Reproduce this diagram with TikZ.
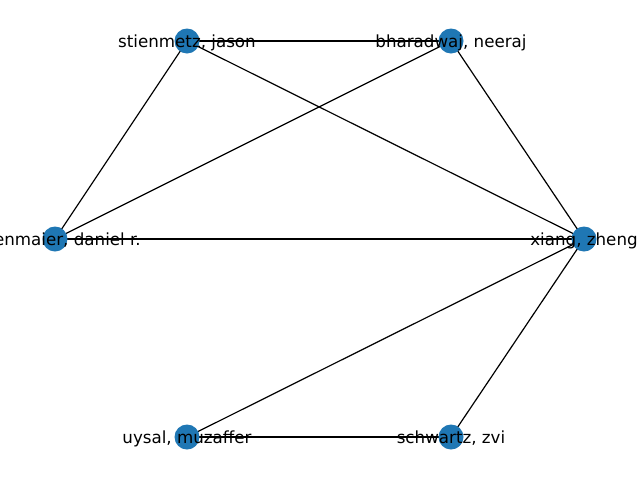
\documentclass[tikz,border=0pt]{standalone}
\usepackage{fontspec}
\setmainfont{DejaVu Sans}
\definecolor{nodeblue}{HTML}{1F77B4}
\begin{document}
\begin{tikzpicture}[x=1pt,y=-1pt,
  vert/.style={circle,fill=nodeblue,minimum size=25pt,inner sep=0pt},
  lbl/.style={font=\fontsize{16.7}{20}\selectfont,inner sep=0pt,text=black,yshift=-1.5pt},
  edge/.style={draw=black,line width=1.2pt}]
  \useasboundingbox (0,0) rectangle (640,480);
  \clip (0,0) rectangle (640,480);
  \fill[white] (0,0) rectangle (640,480);
  % vertices
  \coordinate (s) at (187,41);
  \coordinate (b) at (451,41);
  \coordinate (f) at (55,239);
  \coordinate (x) at (584,239);
  \coordinate (u) at (187,437);
  \coordinate (z) at (451,437);
  % edges
  \draw[edge] (s) -- (b);
  \draw[edge] (s) -- (f);
  \draw[edge] (s) -- (x);
  \draw[edge] (b) -- (f);
  \draw[edge] (b) -- (x);
  \draw[edge] (f) -- (x);
  \draw[edge] (x) -- (u);
  \draw[edge] (x) -- (z);
  \draw[edge] (u) -- (z);
  % markers
  \foreach \p in {s,b,f,x,u,z} \node[vert] (n\p) at (\p) {};
  % labels
  \node[lbl] (ls) at (s) {stienmetz, jason};
  \node[lbl] (lb) at (b) {bharadwaj, neeraj};
  \node[lbl] (lf) at (f) {fesenmaier, daniel r.};
  \node[lbl] (lx) at (x) {xiang, zheng};
  \node[lbl] (lu) at (u) {uysal, muzaffer};
  \node[lbl] (lz) at (z) {schwartz, zvi};
\end{tikzpicture}
\end{document}
